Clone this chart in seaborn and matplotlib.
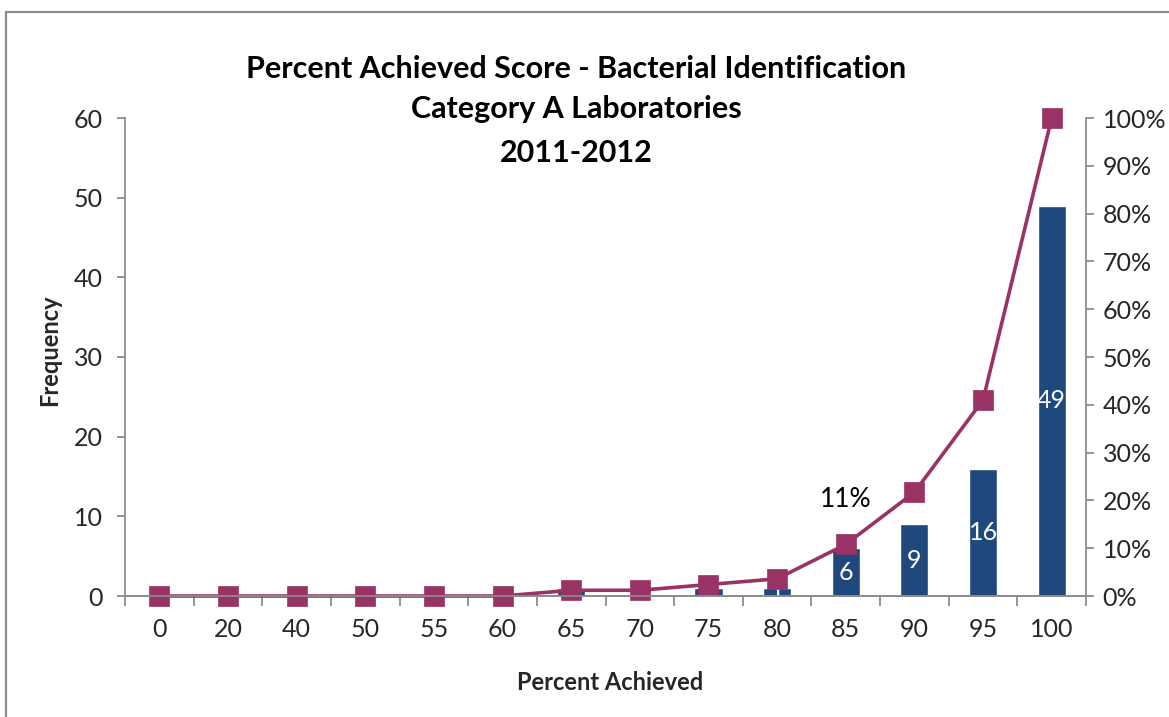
import matplotlib
matplotlib.use("Agg")
import matplotlib.pyplot as plt
import seaborn as sns
from matplotlib.patches import Rectangle
from matplotlib.ticker import PercentFormatter, FixedLocator, NullFormatter

categories = ["0", "20", "40", "50", "55", "60", "65", "70", "75", "80", "85", "90", "95", "100"]
frequency = [0, 0, 0, 0, 0, 0, 1, 0, 1, 1, 6, 9, 16, 49]
cumulative_pct = [0, 0, 0, 0, 0, 0, 1.2, 1.2, 2.4, 3.6, 10.8, 21.7, 41.0, 100.0]
title_lines = ["Percent Achieved Score - Bacterial Identification", "Category A Laboratories", "2011-2012"]

sns.set_theme(style="white")
plt.rcParams["font.family"] = ["Lato", "DejaVu Sans"]

W, H = 1169, 717
fig = plt.figure(figsize=(W / 100, H / 100), dpi=100)

bar_color = "#1F497D"
line_color = "#993366"
spine_color = "#8C8C8C"

ax = fig.add_axes([125 / W, 1 - 596 / H, (1086 - 125) / W, (596 - 118) / H])
sns.barplot(x=categories, y=frequency, color=bar_color, width=0.41, saturation=1, ax=ax, zorder=2)

labels = [str(v) if v > 0 else "" for v in frequency]
ax.bar_label(ax.containers[0], labels=labels, label_type="center", color="white", fontsize=18)

ax.set_ylim(0, 60)
ax.set_yticks(range(0, 61, 10))
ax.set_xlim(-0.5, len(categories) - 0.5)

ax2 = ax.twinx()
sns.pointplot(x=categories, y=cumulative_pct, color=line_color, markers="s", ax=ax2,
              linewidth=2.6, markersize=13)
for l in ax2.lines:
    l.set_markeredgecolor(line_color)
    l.set_clip_on(False)
ax2.set_ylim(0, 100)
ax2.set_yticks(range(0, 101, 10))
ax2.yaxis.set_major_formatter(PercentFormatter(100, decimals=0))
ax2.set_xlim(-0.5, len(categories) - 0.5)

idx = categories.index("85")
ax2.annotate("11%", xy=(idx, cumulative_pct[idx]), xytext=(0, 32), textcoords="offset points",
             ha="center", va="center", fontsize=19, color="black")

for a in (ax, ax2):
    for s in a.spines.values():
        s.set_color(spine_color)
        s.set_linewidth(1.3)
    a.spines["top"].set_visible(False)
    a.set_xlabel("")
    a.set_ylabel("")
ax.spines["right"].set_visible(False)
ax2.spines["left"].set_visible(False)

ax.tick_params(axis="y", which="both", direction="out", length=6, width=1.3, color=spine_color,
               labelsize=18, pad=10, left=True)
ax2.tick_params(axis="y", which="both", direction="out", length=6, width=1.3, color=spine_color,
                labelsize=18, pad=6, right=True)

# x ticks at category boundaries, labels at centers
ax.xaxis.set_minor_locator(FixedLocator([i - 0.5 for i in range(len(categories) + 1)]))
ax.xaxis.set_minor_formatter(NullFormatter())
ax.tick_params(axis="x", which="minor", direction="out", length=7, width=1.3, color=spine_color, bottom=True)
ax.tick_params(axis="x", which="major", length=0, labelsize=18, pad=16)
ax2.tick_params(axis="x", which="both", length=0, labelbottom=False)

for i, line in enumerate(title_lines):
    fig.text(576 / W, 1 - [69, 109, 153][i] / H, line, ha="center", va="center",
             fontsize=22, fontweight="bold", color="black")

fig.text(50 / W, 1 - 350 / H, "Frequency", rotation=90, ha="center", va="center",
         fontsize=17, fontweight="bold")
fig.text(610 / W, 1 - 682 / H, "Percent Achieved", ha="center", va="center",
         fontsize=17, fontweight="bold")

fig.patches.append(Rectangle((6 / W, -0.05), 1.1, 1 - 12 / H + 0.05, transform=fig.transFigure,
                             fill=False, edgecolor=spine_color, linewidth=1.6))

fig.savefig("out.png", dpi=100)
